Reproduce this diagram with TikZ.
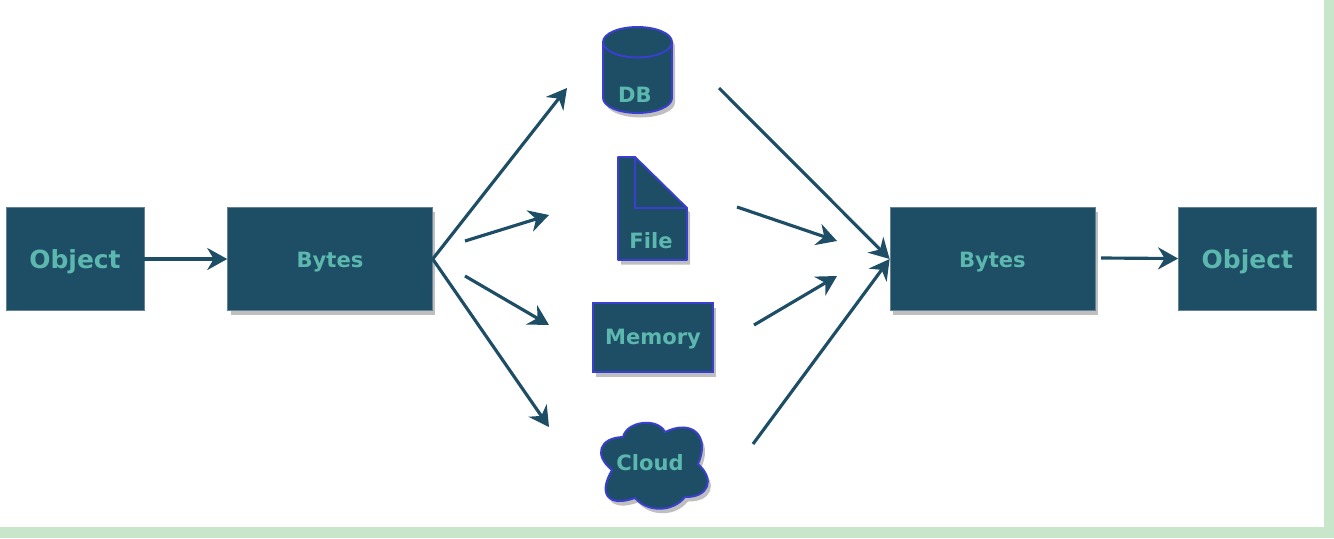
\documentclass[tikz,border=0pt]{standalone}
\usepackage{fontspec}
\setmainfont{DejaVu Sans}
\usetikzlibrary{arrows.meta}
\usetikzlibrary{positioning}
\usetikzlibrary{shadows}
\definecolor{boxfill}{HTML}{1D4E66}
\definecolor{boxtext}{HTML}{5CB8AE}
\definecolor{iconline}{HTML}{3A3FD0}
\definecolor{pagegreen}{HTML}{C8E6C9}

\begin{document}
\begin{tikzpicture}
[
	x = 0.02cm, y = -0.02cm,
	box/.style	= {rectangle, draw = boxfill!70!white, line width = 0.3pt, fill = boxfill, minimum height = 2.06cm, inner sep = 0cm, text = boxtext, text height = 10pt, text depth = 0.5pt, font = \fontsize{14.2}{16}\bfseries},
	objectbox/.style	= {box, minimum width = 2.76cm, text height = 11.5pt},
	bytesbox/.style	= {box, minimum width = 4.1cm, font = \fontsize{12}{14}\bfseries, softshadow},
	icon/.style	= {draw = iconline, line width = 1.1pt, fill = boxfill, softshadow},
	iconfold/.style	= {draw = iconline, line width = 1.1pt},
	icontext/.style	= {text = boxtext, inner sep = 0cm, font = \fontsize{12}{14}\bfseries},
	softshadow/.style	= {drop shadow = {shadow xshift = 0.06cm, shadow yshift = -0.09cm, fill = black, opacity = 0.25}},
	flow/.style	= {-{Stealth[length = 0.4cm, width = 0.44cm, inset = 0.13cm]}, draw = boxfill, line width = 1.8pt},
]

	\fill [pagegreen] (0,0) rectangle (1334,538);
	\fill [white] (0,0) rectangle (1324,527);
	\useasboundingbox (0,0) rectangle (1334,538);

	\node (object1) [objectbox] at (75,259) {Object};
	\node (bytes1) [bytesbox, right = 1.66cm of object1] {Bytes};
	\node (bytes2) [bytesbox, right = 9.14cm of bytes1] {Bytes};
	\node (object2) [objectbox, right = 1.66cm of bytes2] {Object};

	% stores
	\draw [icon] (603,42) arc [start angle = 180, end angle = 0, x radius = 0.69cm, y radius = 0.3cm] -- (672,98) arc [start angle = 0, end angle = -180, x radius = 0.69cm, y radius = 0.3cm] -- cycle;
	\draw [iconfold] (603,42) arc [start angle = 180, end angle = 360, x radius = 0.69cm, y radius = 0.31cm];
	\node (dbtext) [icontext] at (635,95) {DB};

	\draw [icon, line join = round] (618,157) -- (635,157) -- (687,208) -- (687,260) -- (618,260) -- cycle;
	\draw [iconfold] (635,157) -- (635,208) -- (687,208);
	\node (filetext) [icontext] at (651,241) {File};

	\node (memory) [rectangle, icon, minimum width = 2.4cm, minimum height = 1.38cm, inner sep = 0cm, text = boxtext, text height = 9pt, text depth = 0.5pt, font = \fontsize{12}{14}\bfseries] at (653,337.5) {Memory};

	\coordinate (c1) at (623,437);
	\coordinate (c2) at (665,432);
	\coordinate (c3) at (698,464);
	\coordinate (c4) at (685,497);
	\coordinate (c5) at (635,498);
	\coordinate (c6) at (612,470);
	\draw [icon] (c1) to [bend left = 70] (c2)
		to [bend left = 70, looseness = 1.7] (c3)
		to [bend left = 70, looseness = 1.7] (c4)
		to [bend left = 50] (c5)
		to [bend left = 70, looseness = 2] (c6)
		to [bend left = 70, looseness = 1.75] (c1) -- cycle;
	\node (cloudtext) [icontext] at (650,463) {Cloud};

	% free ends of the connectors
	\coordinate (in1) at (567,88);
	\coordinate (in2s) at (465,241);
	\coordinate (in2) at (549,215);
	\coordinate (in3s) at (465,276);
	\coordinate (in3) at (549,325);
	\coordinate (in4) at (549,427);
	\coordinate (out1) at (719,88);
	\coordinate (out2) at (737,207);
	\coordinate (out2e) at (837,241);
	\coordinate (out3) at (754,325);
	\coordinate (out3e) at (837,276);
	\coordinate (out4) at (753,444);
	\coordinate (bytes2s) at (1101,258);

	\draw [flow] (object1) -- (bytes1);
	%
	\draw [flow] (bytes1.east) -- (in1);
	\draw [flow] (in2s) -- (in2);
	\draw [flow] (in3s) -- (in3);
	\draw [flow] (bytes1.east) -- (in4);
	%
	\draw [flow] (out1) -- (bytes2.west);
	\draw [flow] (out2) -- (out2e);
	\draw [flow] (out3) -- (out3e);
	\draw [flow] (out4) -- (bytes2.west);
	%
	\draw [flow] (bytes2s) -- (object2);

\end{tikzpicture}
\end{document}
